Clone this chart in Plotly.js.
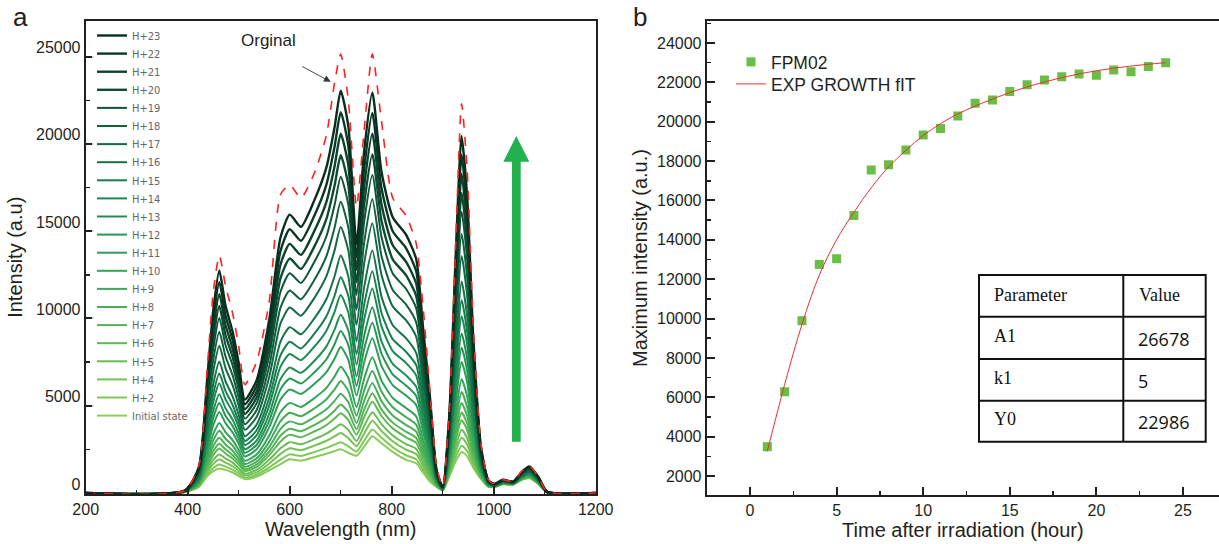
<!DOCTYPE html>
<html><head><meta charset="utf-8">
<script src="https://cdn.plot.ly/plotly-3.0.1.min.js"></script>
<style>html,body{margin:0;padding:0;background:#fff}#chart{width:1219px;height:544px}</style>
</head><body><div id="chart"></div>
<script>
// ---------- Panel a data (wavelength grid, nm) ----------
const wavelength = [200,395,422,438,450,462,474,488,500,512,535,560,582,600,622,648,672,688,700,715,731,746,762,780,802,828,848,862,875,888,900,913,926,937,948,960,975,990,1002,1018,1038,1055,1070,1088,1105,1200];
const orginal     = [0,150,1600,7000,11500,13600,11900,10300,8400,6200,7500,11000,17100,17650,16900,18300,20500,23500,25150,22500,16400,20800,25150,21300,16900,15900,14300,10500,5800,1500,350,4700,14700,22300,18500,9500,2800,750,520,760,650,1250,1550,900,60,0];
const specInitial = [0,60,350,950,1250,1400,1320,1170,970,790,930,1300,1650,1930,1850,2050,2250,2400,2500,2300,2130,2650,3250,2850,2350,1900,1700,1150,650,350,150,950,1850,2350,2100,1450,800,350,350,500,480,750,850,500,30,0];
const specH2  = [0,60,370,1060,1430,1630,1510,1330,1100,880,1040,1470,1910,2210,2120,2340,2580,2770,2910,2670,2370,2990,3640,3160,2620,2160,1930,1310,750,370,150,1020,2090,2710,2400,1600,840,360,350,510,480,760,860,510,30,0];
const specH4  = [0,60,400,1200,1660,1910,1740,1530,1260,1000,1180,1690,2240,2560,2450,2710,2990,3240,3430,3140,2680,3410,4140,3550,2960,2480,2230,1520,870,390,160,1110,2400,3170,2770,1790,880,370,360,510,490,770,880,520,30,0];
const specH5  = [0,70,430,1340,1890,2200,1980,1740,1420,1110,1320,1910,2560,2910,2790,3080,3400,3700,3940,3610,2980,3840,4630,3940,3290,2800,2520,1720,990,420,160,1200,2700,3620,3140,1970,930,370,360,520,490,780,900,530,30,0];
const specH6  = [0,70,470,1500,2170,2540,2260,1980,1620,1250,1480,2170,2950,3330,3190,3520,3890,4260,4560,4170,3340,4350,5220,4410,3700,3190,2870,1970,1140,450,170,1310,3070,4160,3590,2200,990,390,370,530,500,800,920,540,30,0];
const specH7  = [0,70,490,1640,2400,2820,2500,2180,1780,1360,1620,2380,3280,3680,3530,3890,4300,4720,5070,4640,3650,4770,5710,4790,4030,3510,3160,2170,1260,470,180,1390,3370,4610,3960,2380,1030,390,370,530,500,810,930,550,30,0];
const specH8  = [0,70,530,1800,2680,3160,2780,2420,1970,1500,1790,2640,3670,4100,3930,4330,4790,5280,5690,5200,4010,5280,6300,5260,4440,3900,3510,2410,1400,500,180,1500,3730,5160,4400,2610,1090,400,380,540,510,820,950,560,30,0];
const specH9  = [0,80,570,2000,3000,3560,3110,2710,2200,1660,1980,2940,4120,4590,4400,4840,5370,5930,6410,5850,4430,5870,6990,5810,4910,4350,3920,2700,1570,530,190,1630,4160,5790,4920,2870,1150,420,380,550,510,840,980,580,40,0];
const specH10 = [0,80,610,2220,3370,4010,3490,3030,2460,1840,2200,3290,4640,5160,4930,5430,6020,6670,7230,6600,4920,6550,7780,6430,5440,4870,4390,3030,1770,570,200,1770,4650,6510,5520,3160,1230,430,390,560,520,850,1000,590,40,0];
const specH11 = [0,90,680,2520,3870,4640,4010,3470,2820,2090,2500,3770,5360,5930,5670,6240,6920,7690,8360,7630,5580,7480,8860,7280,6180,5580,5040,3470,2030,620,210,1960,5310,7510,6330,3570,1330,450,400,570,530,880,1040,610,40,0];
const specH12 = [0,90,730,2770,4290,5150,4430,3840,3110,2300,2750,4150,5940,6560,6270,6900,7660,8520,9280,8470,6130,8240,9750,7980,6790,6160,5560,3840,2250,660,220,2120,5860,8320,7000,3910,1410,470,410,590,540,900,1070,630,40,0];
const specH13 = [0,90,780,3010,4700,5660,4860,4200,3400,2500,3000,4540,6530,7190,6880,7560,8400,9360,10210,9310,6680,9010,10640,8680,7390,6740,6090,4210,2470,710,230,2280,6410,9140,7670,4240,1490,480,410,600,540,920,1100,650,40,0];
const specH14 = [0,100,850,3320,5210,6280,5380,4640,3760,2750,3300,5020,7240,7960,7610,8370,9300,10380,11340,10340,7340,9940,11720,9540,8130,7450,6730,4660,2740,760,240,2480,7080,10130,8490,4650,1600,500,420,610,550,940,1140,670,40,0];
const specH15 = [0,100,900,3590,5670,6850,5850,5050,4080,2980,3580,5450,7890,8660,8280,9110,10120,11300,12360,11280,7950,10790,12710,10310,8810,8090,7320,5060,2980,810,250,2650,7680,11040,9230,5030,1690,520,430,620,560,970,1170,690,40,0];
const specH16 = [0,110,970,3920,6220,7530,6410,5530,4470,3250,3910,5970,8670,9500,9090,9990,11110,12420,13600,12400,8680,11800,13890,11250,9610,8870,8020,5550,3270,860,260,2870,8410,12120,10120,5470,1800,540,440,640,570,990,1210,720,50,0];
const specH17 = [0,120,1060,4360,6950,8440,7170,6180,4990,3620,4350,6660,9710,10620,10160,11160,12420,13900,15240,13890,9640,13160,15460,12490,10690,9900,8950,6200,3660,940,270,3150,9380,13570,11310,6070,1950,570,450,660,590,1030,1270,750,50,0];
const specH18 = [0,120,1140,4750,7600,9230,7830,6750,5440,3940,4740,7270,10620,11600,11100,12190,13570,15200,16680,15200,10490,14350,16840,13580,11630,10800,9770,6770,4000,1010,290,3400,10230,14840,12350,6590,2080,590,470,680,600,1060,1310,780,50,0];
const specH19 = [0,130,1220,5130,8240,10030,8490,7310,5900,4260,5130,7870,11530,12590,12030,13220,14710,16500,18120,16510,11340,15530,18220,14670,12570,11700,10590,7340,4340,1070,300,3650,11080,16110,13390,7110,2210,620,480,700,610,1090,1360,800,50,0];
const specH20 = [0,130,1290,5460,8790,10710,9050,7800,6280,4530,5460,8390,12310,13430,12840,14100,15700,17610,19350,17630,12070,16550,19400,15600,13380,12480,11290,7830,4630,1130,310,3860,11810,17190,14280,7560,2320,640,490,710,620,1120,1400,830,60,0];
const specH21 = [0,140,1360,5790,9350,11390,9620,8280,6670,4800,5790,8910,13090,14270,13640,14990,16680,18720,20580,18760,12800,17570,20590,16530,14190,13250,12000,8320,4920,1190,330,4070,12540,18280,15170,8010,2430,660,500,730,630,1150,1440,850,60,0];
const specH22 = [0,140,1430,6120,9900,12070,10180,8770,7060,5080,6120,9430,13870,15110,14450,15870,17670,19840,21820,19880,13520,18580,21770,17470,14990,14030,12700,8810,5210,1240,340,4290,13270,19360,16060,8450,2540,680,510,740,640,1170,1480,880,60,0];
const specH23 = [0,150,1500,6450,10450,12750,10750,9250,7450,5350,6450,9950,14650,15950,15250,16750,18650,20950,23050,21000,14250,19600,22950,18400,15800,14800,13400,9300,5500,1300,350,4500,14000,20450,16950,8900,2650,700,520,760,650,1200,1520,900,60,0];

const seriesNames = ['Initial state','H+2','H+4','H+5','H+6','H+7','H+8','H+9','H+10','H+11','H+12','H+13','H+14','H+15','H+16','H+17','H+18','H+19','H+20','H+21','H+22','H+23'];
const seriesValues = [specInitial,specH2,specH4,specH5,specH6,specH7,specH8,specH9,specH10,specH11,specH12,specH13,specH14,specH15,specH16,specH17,specH18,specH19,specH20,specH21,specH22,specH23];

// ---------- Panel b data ----------
const timeHours = [1,2,3,4,5,6,7,8,9,10,11,12,13,14,15,16,17,18,19,20,21,22,23,24];
const maxIntensity = [3490,6280,9890,12750,13040,15230,17550,17820,18560,19330,19650,20290,20940,21100,21530,21880,22120,22290,22430,22360,22630,22540,22800,23000];
const fitIntensity = [3250,6650,9700,12200,14000,15400,16650,17700,18550,19300,19900,20400,20800,21150,21480,21770,22020,22240,22430,22590,22720,22830,22920,23000];
const tableHeader = ['Parameter','Value'];
const tableParams = ['A1','k1','Y0'];
const tableValues = ['26678','5','22986'];

// ---------- styles ----------
const seriesColors = ['#8acc5c','#80c758','#75c256','#6abd55','#5eb956','#53b457','#49af58','#3faa58','#36a458','#2e9e57','#279756','#218f54','#1b8751','#177e4d','#147449','#126a44','#10603e','#0f5638','#0d4c32','#0c422b','#0b3825','#0a2e1e'];
const W = 1219, H = 544;
const px = x => x / W, py = y => 1 - y / H;
const P = (x, y) => (x / W).toFixed(5) + ',' + (1 - y / H).toFixed(5);
const ink = '#231f20';
const sans = 'Liberation Sans, Arial, sans-serif';
const serif = 'Liberation Serif, Times New Roman, serif';
const openS = 'Open Sans, Noto Sans, sans-serif';

const traces = [];
seriesNames.forEach((name, i) => {
  traces.push({
    x: wavelength, y: seriesValues[i], name: name, type: 'scatter', mode: 'lines',
    line: {color: seriesColors[i], width: i > 17 ? 2.4 : 2, shape: 'spline', smoothing: 0.6},
    xaxis: 'x', yaxis: 'y', legend: 'legend', hoverinfo: 'skip'
  });
});
traces.push({
  x: wavelength, y: orginal, name: 'Orginal', type: 'scatter', mode: 'lines',
  line: {color: '#ff2020', width: 1.6, dash: 'dash', shape: 'spline', smoothing: 0.6},
  xaxis: 'x', yaxis: 'y', showlegend: false
});
traces.push({
  x: timeHours, y: maxIntensity, name: 'FPM02', type: 'scatter', mode: 'markers',
  marker: {symbol: 'square', size: 9, color: '#6abd45'},
  xaxis: 'x2', yaxis: 'y2', legend: 'legend2'
});
traces.push({
  x: timeHours, y: fitIntensity, name: 'EXP GROWTH fIT', type: 'scatter', mode: 'lines',
  line: {color: '#ee3030', width: 1, shape: 'spline'},
  xaxis: 'x2', yaxis: 'y2', legend: 'legend2'
});

const axisCommon = {
  showline: true, linewidth: 2, linecolor: ink, showgrid: false, zeroline: false,
  ticks: 'inside', ticklen: 8, tickwidth: 2, tickcolor: ink,
  tickfont: {family: sans, size: 16, color: ink}
};

const shapes = [
  {type: 'path', xref: 'paper', yref: 'paper', fillcolor: '#22b14c', line: {width: 0},
   path: `M ${P(512,441.7)} L ${P(520.7,441.7)} L ${P(520.7,161.7)} L ${P(529.3,161.7)} L ${P(516.3,136)} L ${P(503.3,161.7)} L ${P(512,161.7)} Z`},
  {type: 'rect', xref: 'paper', yref: 'paper', x0: px(979), x1: px(1205.7), y0: py(441.7), y1: py(275), line: {color: '#111', width: 2}},
  {type: 'line', xref: 'paper', yref: 'paper', x0: px(1123.3), x1: px(1123.3), y0: py(441.7), y1: py(275), line: {color: '#111', width: 2}}
];
[316.7, 359, 400.7].forEach(yy => shapes.push({type: 'line', xref: 'paper', yref: 'paper', x0: px(979), x1: px(1205.7), y0: py(yy), y1: py(yy), line: {color: '#111', width: 2}}));

const ann = (x, y, text, font, extra) => Object.assign({xref: 'paper', yref: 'paper', x: px(x), y: py(y), text: text,
  showarrow: false, xanchor: 'center', yanchor: 'middle', font: font}, extra || {});
const annotations = [
  ann(20, 17, 'a', {family: sans, size: 26, color: ink}),
  ann(640, 17, 'b', {family: sans, size: 26, color: ink}),
  ann(268, 41, 'Orginal', {family: sans, size: 17, color: ink}),
  {xref: 'paper', yref: 'paper', x: px(330.7), y: py(81.7), ax: -30, ay: -16, text: '', showarrow: true,
   arrowhead: 2, arrowsize: 1.5, arrowwidth: 0.9, arrowcolor: '#333', standoff: 0}
];
annotations.push(ann(992, 295, tableHeader[0], {family: serif, size: 18, color: '#111'}, {xanchor: 'left'}));
annotations.push(ann(1137, 295, tableHeader[1], {family: serif, size: 18, color: '#111'}, {xanchor: 'left'}));
const rowY = [336, 377.7, 419.3];
tableParams.forEach((p, i) => {
  annotations.push(ann(992, rowY[i], p, {family: serif, size: 18, color: '#111'}, {xanchor: 'left'}));
  annotations.push(ann(1135.5, rowY[i] + 3, tableValues[i], {family: openS, size: 18, color: '#111'}, {xanchor: 'left'}));
});

const layout = {
  width: W, height: H, margin: {l: 0, r: 0, t: 0, b: 0},
  paper_bgcolor: '#fff', plot_bgcolor: '#fff',
  font: {family: sans, color: ink},
  showlegend: true,
  xaxis: Object.assign({}, axisCommon, {
    domain: [px(85.7), px(595.7)], range: [200, 1200], tick0: 200, dtick: 200, mirror: true, anchor: 'y',
    minor: {ticks: 'inside', ticklen: 4, tickwidth: 1.5, tickcolor: ink, dtick: 100, showgrid: false},
    title: {text: 'Wavelength (nm)', font: {family: sans, size: 20, color: ink}, standoff: 4}
  }),
  yaxis: Object.assign({}, axisCommon, {
    domain: [py(494), py(20.5)], range: [-60, 27070], tick0: 0, dtick: 5000, tickformat: 'd', mirror: true, anchor: 'x',
    ticklabelshift: -9,
    minor: {ticks: 'inside', ticklen: 4, tickwidth: 1.5, tickcolor: ink, dtick: 2500, showgrid: false},
    title: {text: 'Intensity (a.u)', font: {family: sans, size: 20, color: ink}, standoff: 8}
  }),
  xaxis2: Object.assign({}, axisCommon, {
    domain: [px(706.7), 1], range: [-2.5, 27.08], tick0: 0, dtick: 5, mirror: true, anchor: 'y2',
    minor: {ticks: 'inside', ticklen: 4, tickwidth: 1.5, tickcolor: ink, dtick: 2.5, showgrid: false},
    title: {text: 'Time after irradiation (hour)', font: {family: sans, size: 20, color: ink}, standoff: 2}
  }),
  yaxis2: Object.assign({}, axisCommon, {
    domain: [py(495), py(21)], range: [1035, 25118], tick0: 0, dtick: 2000, tickformat: 'd', mirror: false, anchor: 'x2',
    minor: {ticks: 'inside', ticklen: 4, tickwidth: 1.5, tickcolor: ink, dtick: 1000, showgrid: false},
    title: {text: 'Maximum intensity (a.u.)', font: {family: sans, size: 20, color: ink}, standoff: 4}
  }),
  legend: {x: px(92), y: py(21), xanchor: 'left', yanchor: 'top', traceorder: 'reversed',
    font: {family: 'DejaVu Sans Condensed, Liberation Sans', size: 11, color: '#666'},
    bgcolor: 'rgba(255,255,255,0.85)', borderwidth: 0, tracegroupgap: 0},
  legend2: {x: px(731), y: py(44), xanchor: 'left', yanchor: 'top',
    font: {family: sans, size: 17.5, color: ink}, bgcolor: 'rgba(0,0,0,0)', borderwidth: 0},
  shapes: shapes,
  annotations: annotations
};

function respace(gd, cls, gap) {
  const items = Array.from(gd.querySelectorAll('g.' + cls + ' g.traces'));
  if (!items.length) return;
  const parse = el => {
    const m = /translate\(\s*([-\d.e]+)[ ,]+([-\d.e]+)/.exec(el.getAttribute('transform') || '');
    return m ? [parseFloat(m[1]), parseFloat(m[2])] : [0, 0];
  };
  const pos = items.map(el => ({el: el, p: parse(el)})).sort((a, b) => a.p[1] - b.p[1]);
  const y0 = pos[0].p[1];
  pos.forEach((o, i) => o.el.setAttribute('transform', `translate(${o.p[0]},${y0 + i * gap})`));
}

Plotly.newPlot('chart', traces, layout, {staticPlot: true, displayModeBar: false}).then(gd => {
  respace(gd, 'legend', 18.1);
  respace(gd, 'legend2', 22);
});
</script>
</body></html>
